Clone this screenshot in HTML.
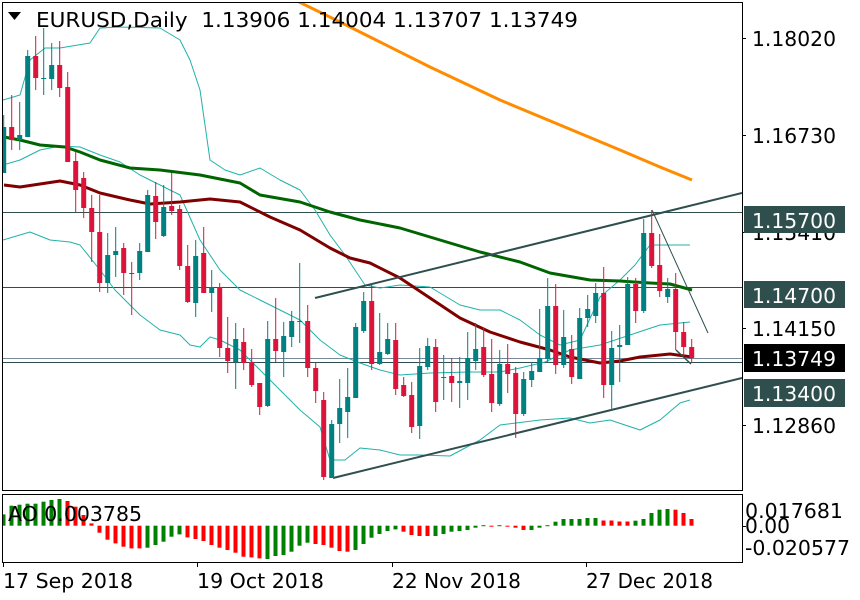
<!DOCTYPE html>
<html><head><meta charset="utf-8">
<style>
html,body{margin:0;padding:0;background:#fff;}
svg{display:block;font-family:"DejaVu Sans","Liberation Sans",sans-serif;}
</style></head>
<body>
<svg id="s" width="860" height="600" viewBox="0 0 860 600" xmlns="http://www.w3.org/2000/svg">
<rect x="0" y="0" width="860" height="600" fill="#fff"/>
<g id="ind"></g>
<g id="main"></g>
<!-- frames -->
<rect x="2.5" y="2.5" width="740" height="488" fill="none" stroke="#000" stroke-width="1"/>
<rect x="2.5" y="494.5" width="740" height="68" fill="none" stroke="#000" stroke-width="1"/>
<g stroke="#000" stroke-width="1">
<line x1="742" y1="38.5" x2="746" y2="38.5"/>
<line x1="742" y1="135.5" x2="746" y2="135.5"/>
<line x1="742" y1="232.5" x2="746" y2="232.5"/>
<line x1="742" y1="328.5" x2="746" y2="328.5"/>
<line x1="742" y1="425.5" x2="746" y2="425.5"/>
<line x1="742" y1="526.5" x2="746" y2="526.5"/>
<line x1="3.5" y1="563" x2="3.5" y2="567"/>
<line x1="197.5" y1="563" x2="197.5" y2="567"/>
<line x1="392.5" y1="563" x2="392.5" y2="567"/>
<line x1="586.5" y1="563" x2="586.5" y2="567"/>
</g>
<g font-size="20" fill="#000">
<text x="752" y="46" textLength="84" lengthAdjust="spacingAndGlyphs">1.18020</text>
<text x="752" y="143" textLength="84" lengthAdjust="spacingAndGlyphs">1.16730</text>
<text x="752" y="240" textLength="84" lengthAdjust="spacingAndGlyphs">1.15410</text>
<text x="752" y="336" textLength="84" lengthAdjust="spacingAndGlyphs">1.14150</text>
<text x="752" y="433" textLength="84" lengthAdjust="spacingAndGlyphs">1.12860</text>
</g>
<rect x="744" y="206" width="101" height="27" fill="#2f4f4f"/>
<rect x="744" y="281" width="101" height="27" fill="#2f4f4f"/>
<rect x="744" y="344" width="101" height="28" fill="#000"/>
<rect x="744" y="379" width="101" height="28" fill="#2f4f4f"/>
<g font-size="20" fill="#fff">
<text x="752" y="228" textLength="84" lengthAdjust="spacingAndGlyphs">1.15700</text>
<text x="752" y="303" textLength="84" lengthAdjust="spacingAndGlyphs">1.14700</text>
<text x="752" y="366" textLength="84" lengthAdjust="spacingAndGlyphs">1.13749</text>
<text x="752" y="401" textLength="84" lengthAdjust="spacingAndGlyphs">1.13400</text>
</g>
<polygon points="8,12 21,12 14.5,20" fill="#000"/>
<text x="36" y="27" font-size="20" fill="#000" textLength="542" lengthAdjust="spacingAndGlyphs" xml:space="preserve">EURUSD,Daily  1.13906 1.14004 1.13707 1.13749</text>
<text x="8" y="521" font-size="20" fill="#000" textLength="134" lengthAdjust="spacingAndGlyphs">AO 0.003785</text>
<g font-size="20" fill="#000">
<text x="745" y="518" textLength="98" lengthAdjust="spacingAndGlyphs">0.017681</text>
<text x="745" y="533" textLength="45" lengthAdjust="spacingAndGlyphs">0.00</text>
<text x="745" y="555" textLength="105" lengthAdjust="spacingAndGlyphs">-0.020577</text>
<text x="3" y="588" textLength="130" lengthAdjust="spacingAndGlyphs">17 Sep 2018</text>
<text x="197" y="588" textLength="127" lengthAdjust="spacingAndGlyphs">19 Oct 2018</text>
<text x="392" y="588" textLength="129" lengthAdjust="spacingAndGlyphs">22 Nov 2018</text>
<text x="586" y="588" textLength="127" lengthAdjust="spacingAndGlyphs">27 Dec 2018</text>
</g>
</svg>
<script>
(function(){
var NS="http://www.w3.org/2000/svg";
var main=document.getElementById('main'), ind=document.getElementById('ind');
function el(p,t,a){var e=document.createElementNS(NS,t);for(var k in a)e.setAttribute(k,a[k]);p.appendChild(e);return e;}
function pl(pts,c,w){el(main,'polyline',{points:pts,fill:'none',stroke:c,'stroke-width':w,'stroke-linejoin':'round'});}
var cp=el(main,'clipPath',{id:'cl'});el(cp,'rect',{x:3,y:3,width:739,height:487});
var g=el(main,'g',{'clip-path':'url(#cl)'});
main=g;
el(main,'line',{x1:0,y1:212.5,x2:742,y2:212.5,stroke:'#2f4f4f','stroke-width':1});
el(main,'line',{x1:0,y1:287.5,x2:742,y2:287.5,stroke:'#2f4f4f','stroke-width':1});
el(main,'line',{x1:0,y1:362.5,x2:742,y2:362.5,stroke:'#2f4f4f','stroke-width':1});
el(main,'line',{x1:0,y1:358.5,x2:742,y2:358.5,stroke:'#778899','stroke-width':1});
pl("3,100 20,95 30,60 45,48 60,48 90,43 100,28 120,27 160,28 180,40 190,60 200,90 210,160 225,170 240,175 260,168 280,180 300,190 315,210 330,235 345,255 365,285 380,288 400,285 430,287 460,305 480,310 500,310 520,320 540,335 560,345 580,340 600,297 620,280 635,265 650,245 670,245 690,245","#20b2aa",1);
pl("3,165 20,160 40,150 60,146 80,147 100,155 120,162 140,175 160,185 180,195 200,240 220,270 240,290 260,300 280,310 300,320 320,340 340,355 360,363 380,370 400,375 430,373 470,372 500,372 520,368 545,362 570,350 600,345 630,335 660,325 690,322","#20b2aa",1);
pl("3,240 30,232 50,240 70,242 80,245 100,270 115,290 140,315 160,330 180,335 190,345 200,347 210,337 220,340 240,350 260,370 280,390 300,410 320,427 330,460 345,460 360,448 380,450 400,455 420,455 450,456 480,440 500,425 540,420 570,418 590,423 610,420 640,430 660,420 680,403 690,400","#20b2aa",1);
pl("295,0 340,22 380,42 430,67 500,100 560,125 620,150 660,167 692,180","#ff8c00",3);
pl("4,137 20,140 40,145 65,147 80,152 100,160 130,168 160,170 200,175 240,183 260,195 300,202 330,212 360,220 400,228 450,243 480,252 520,262 550,273 590,280 620,281 650,283 670,284 692,290","#006400",3);
pl("4,185 20,187 40,184 60,181 80,185 100,193 130,200 150,204 180,202 210,199 240,202 270,217 300,230 330,248 350,258 370,263 400,278 430,298 460,318 490,332 520,342 550,350 570,357 600,363 620,361 640,357 670,354 692,357","#800000",3);
el(main,'line',{x1:315,y1:298,x2:742,y2:193,stroke:'#2f4f4f','stroke-width':2});
el(main,'line',{x1:333,y1:478,x2:742,y2:378,stroke:'#2f4f4f','stroke-width':2});
el(main,'line',{x1:652,y1:210,x2:708,y2:333,stroke:'#2f4f4f','stroke-width':1});
el(main,'line',{x1:676,y1:350,x2:691,y2:364,stroke:'#2f4f4f','stroke-width':1.5});
var C=[[173,127,115,173],[127,140,95,150],[140,135,102,150],[137,56,50,137],[56,78,36,90],[78,78,28,95],[79,65,43,90],[65,88,41,97],[87,162,72,162],[161,190,152,213],[178,208,172,218],[208,232,195,262],[232,283,195,292],[283,255,233,293],[255,251,227,277],[248,273,243,295],[273,273,262,315],[273,251,243,280],[252,195,190,252],[196,222,182,239],[236,207,185,237],[206,211,173,215],[209,266,205,270],[266,302,245,303],[303,256,240,317],[253,293,227,293],[293,287,270,312],[287,348,283,357],[348,361,317,373],[362,339,323,389],[342,363,328,370],[362,385,349,387],[383,407,383,415],[406,339,321,407],[339,351,298,362],[352,336,322,377],[337,321,311,347],[321,321,263,343],[321,368,305,377],[368,391,363,403],[400,477,392,480],[478,424,420,478],[424,408,379,443],[412,397,368,438],[398,327,323,398],[331,301,292,333],[301,364,285,370],[364,352,313,365],[354,339,323,355],[340,389,323,395],[385,396,377,397],[395,427,382,433],[426,366,348,439],[367,346,338,370],[347,402,339,412],[377,377,355,400],[376,383,358,402],[383,381,357,408],[383,358,332,400],[361,349,323,370],[347,375,328,377],[374,403,339,412],[404,364,350,406],[364,374,344,393],[373,414,367,438],[414,379,372,416],[380,371,362,387],[372,358,309,372],[359,306,278,363],[306,365,284,374],[365,337,310,368],[349,377,335,384],[379,318,308,379],[318,309,295,327],[316,293,283,323],[293,385,267,398],[385,348,331,410],[347,345,325,382],[345,284,277,345],[284,311,278,323],[311,233,219,313],[233,266,210,268],[265,291,234,297],[297,289,278,303],[289,332,273,350],[332,347,322,356],[347,358,339,363]];
for(var i=0;i<C.length;i++){
 var x=3.7+8*i,o=C[i][0],c=C[i][1],h=C[i][2],l=C[i][3];
 var col=(c<o)?'#008080':(c>o?'#dc143c':(i%2==1?'#008080':'#dc143c'));
 el(main,'line',{x1:x,y1:h,x2:x,y2:l,stroke:col,'stroke-width':1});
 var t=Math.min(o,c),b=Math.max(o,c);if(b-t<1){b=t+1;}
 el(main,'rect',{x:x-2.5,y:t,width:5,height:b-t,fill:col});
}
var A=[[11.3,'g'],[20,'g'],[21,'g'],[22,'g'],[22,'g'],[24,'g'],[25.7,'g'],[26.7,'g'],[24.7,'r'],[19,'r'],[10.7,'r'],[2.3,'r'],[-7,'r'],[-14,'r'],[-17.7,'r'],[-21,'r'],[-22.7,'r'],[-22.7,'r'],[-22,'g'],[-19.3,'g'],[-16,'g'],[-11,'g'],[-8.7,'g'],[-11.7,'r'],[-13.3,'r'],[-15.3,'r'],[-19.3,'r'],[-22,'r'],[-24.3,'r'],[-27,'r'],[-31,'r'],[-31.7,'r'],[-32.7,'r'],[-33.3,'g'],[-30.3,'g'],[-29.3,'g'],[-26,'g'],[-20,'g'],[-17,'g'],[-18.3,'r'],[-19.3,'r'],[-22,'r'],[-25.3,'r'],[-26,'r'],[-24.3,'g'],[-18.3,'g'],[-12,'g'],[-8.3,'g'],[-5.3,'g'],[-3.7,'g'],[-6,'r'],[-9.3,'r'],[-10.3,'r'],[-10.3,'r'],[-10.3,'g'],[-8.3,'g'],[-6,'g'],[-5.3,'g'],[-4.3,'g'],[-2,'g'],[0.5,'g'],[-0.5,'r'],[0.5,'g'],[-0.5,'r'],[-2,'r'],[-4.3,'r'],[-4.3,'g'],[-2,'g'],[0.5,'g'],[4,'g'],[6.7,'g'],[6.7,'g'],[6.7,'g'],[7.7,'g'],[7.7,'g'],[5.2,'r'],[5.2,'r'],[4.2,'r'],[4.2,'r'],[5,'g'],[6.7,'g'],[12.7,'g'],[16,'g'],[16.7,'g'],[16,'r'],[12.7,'r'],[6.7,'r']];
var Z=525.7;
for(var j=0;j<A.length;j++){
 var v=A[j][0],x2=3.5+8*j,col2=A[j][1]=='g'?'#008000':'#ff0000';
 var y=v>0?Z-v:Z,hh=Math.max(Math.abs(v),1);
 var xl=Math.max(x2-2,3);
 el(ind,'rect',{x:xl,y:y,width:x2+2-xl,height:hh,fill:col2});
}
})();
</script>
</body></html>
